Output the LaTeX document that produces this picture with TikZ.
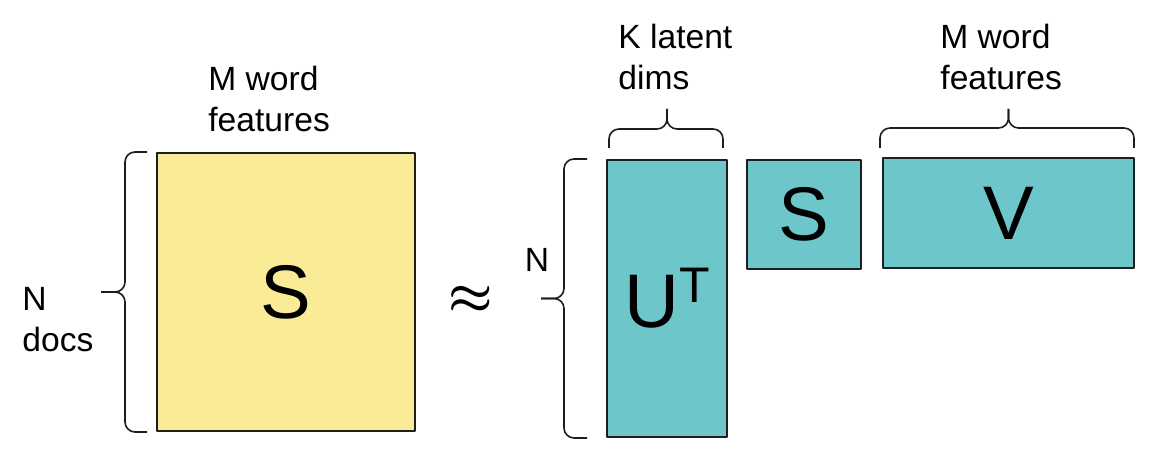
\documentclass[tikz,border=0pt]{standalone}
\usepackage{fontspec}
\setmainfont{Liberation Sans}
\usepackage{tikz}
\usetikzlibrary{positioning}
\definecolor{mxYellow}{HTML}{FAEC96}
\definecolor{mxTeal}{HTML}{6DC6CA}
\definecolor{mxInk}{HTML}{1E1E1E}
\tikzset{
  mx diagram/.style={x=0.5pt, y=-0.5pt, text=black, line join=round},
  mx cell/.style={draw=mxInk, line width=1pt, inner sep=0pt,
    font=\fontsize{38}{40}\selectfont},
  mx data/.style={mx cell, fill=mxYellow},
  mx factor/.style={mx cell, fill=mxTeal},
  mx brace/.style={draw=mxInk, line width=0.8pt, rounded corners=5pt},
  mx label/.style={font=\fontsize{16.8}{20.5}\selectfont, align=left, inner sep=0pt}
}

\begin{document}
\begin{tikzpicture}[mx diagram]
\useasboundingbox (0,0) rectangle (1166,474);
\node[mx data, minimum width=129pt, minimum height=139pt] (data) at (286,292) {S};
\node[font=\fontsize{24.88}{26}\selectfont\boldmath] (approx) at (471,300) {$\approx$};
\node[mx factor, minimum width=60pt, minimum height=138.5pt] (left) at (667,298.5)
  {U\raisebox{12.5pt}{\fontsize{25}{25}\selectfont T}};
\node[mx factor, minimum width=57pt, minimum height=54.5pt] (sigma) at (804,214.5) {S};
\node[mx factor, minimum width=125.5pt, minimum height=55pt] (right) at (1008.5,213) {V};
\draw[mx brace] ([xshift=-4.5pt]data.north west) -| ([xshift=-15.5pt]data.west) -- ([xshift=-27.5pt]data.west);
\draw[mx brace] ([xshift=-4.5pt]data.south west) -| ([xshift=-15.5pt]data.west) -- ([xshift=-27.5pt]data.west);
\draw[mx brace] ([xshift=-9.5pt]left.north west) -| ([xshift=-21pt]left.west) -- ([xshift=-32.5pt]left.west);
\draw[mx brace] ([xshift=-9.5pt]left.south west) -| ([xshift=-21pt]left.west) -- ([xshift=-32.5pt]left.west);
\draw[mx brace] ([xshift=1.5pt,yshift=5.5pt]left.north west) |- ([yshift=15pt]left.north) -- ([yshift=25pt]left.north);
\draw[mx brace] ([xshift=-2.5pt,yshift=5.5pt]left.north east) |- ([yshift=15pt]left.north) -- ([yshift=25pt]left.north);
\draw[mx brace] ([xshift=-1pt,yshift=4.5pt]right.north west) |- ([yshift=14.5pt]right.north) -- ([yshift=24pt]right.north);
\draw[mx brace] ([xshift=-0.5pt,yshift=4.5pt]right.north east) |- ([yshift=14.5pt]right.north) -- ([yshift=24pt]right.north);
\node[mx label, anchor=north west] (dataCols) at (208,66) {M word\\features};
\node[mx label, anchor=north west] (dataRows) at (22,287) {N\\docs};
\node[mx label] (leftRows) at (537,260) {N};
\node[mx label, anchor=north west] (leftCols) at (618,24) {K latent\\dims};
\node[mx label, anchor=north west] (rightCols) at (940,24) {M word\\features};
\end{tikzpicture}
\end{document}
